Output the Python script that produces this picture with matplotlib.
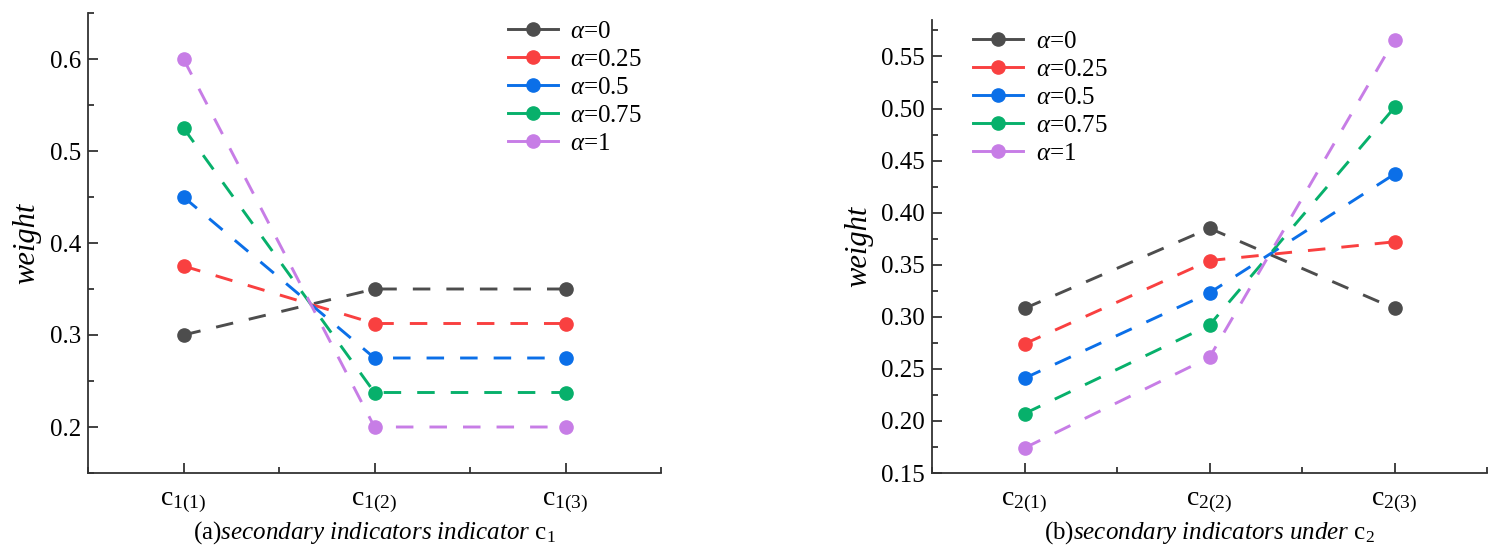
import matplotlib
matplotlib.use("Agg")
import matplotlib.pyplot as plt
from matplotlib.lines import Line2D
from matplotlib.ticker import MultipleLocator

plt.rcParams['font.family'] = ['Liberation Serif', 'DejaVu Serif']
plt.rcParams['mathtext.fontset'] = 'custom'
plt.rcParams['mathtext.rm'] = 'Liberation Serif'
plt.rcParams['mathtext.it'] = 'Liberation Serif:italic'
plt.rcParams['mathtext.bf'] = 'Liberation Serif:bold'

# ---- data ----
alphas = ["0", "0.25", "0.5", "0.75", "1"]
colors = ["#4d4d4d", "#f94040", "#0b6fe8", "#07b06b", "#c77de6"]

cats_a = [r"$\mathrm{c}_{1(1)}$", r"$\mathrm{c}_{1(2)}$", r"$\mathrm{c}_{1(3)}$"]
a_alpha0 = [0.300, 0.350, 0.350]
a_alpha025 = [0.375, 0.3125, 0.3125]
a_alpha05 = [0.450, 0.275, 0.275]
a_alpha075 = [0.525, 0.2375, 0.2375]
a_alpha1 = [0.600, 0.200, 0.200]

cats_b = [r"$\mathrm{c}_{2(1)}$", r"$\mathrm{c}_{2(2)}$", r"$\mathrm{c}_{2(3)}$"]
b_alpha0 = [0.308, 0.385, 0.308]
b_alpha025 = [0.274, 0.354, 0.372]
b_alpha05 = [0.241, 0.323, 0.437]
b_alpha075 = [0.207, 0.292, 0.501]
b_alpha1 = [0.174, 0.261, 0.566]

xlabel_a = r"(a)$\mathit{secondary\ indicators\ indicator}$ $\mathrm{c}_1$"
xlabel_b = r"(b)$\mathit{secondary\ indicators\ under}$ $\mathrm{c}_2$"
ylabel = "weight"

series_a = [a_alpha0, a_alpha025, a_alpha05, a_alpha075, a_alpha1]
series_b = [b_alpha0, b_alpha025, b_alpha05, b_alpha075, b_alpha1]

fig = plt.figure(figsize=(15, 5.56), dpi=100)
ax1 = fig.add_axes([88/1500, 83/556, 573/1500, 460/556])
ax2 = fig.add_axes([932/1500, 83/556, 555/1500, 453/556])

FS = 18
LW = 2.1
MS = 9.5


def draw(ax, cats, series, ylim, ymaj, ymin, yfmt, xlabel, anchor):
    x = list(range(1, len(cats) + 1))
    for s, c in zip(series, colors):
        ax.plot(x, s, color=c, lw=LW, ls=(0, (6, 5.5)), marker='o', ms=MS,
                zorder=3)
    ax.set_xlim(0.5, 3.5)
    ax.set_ylim(*ylim)
    ax.set_xticks(x)
    ax.set_xticklabels(cats, fontsize=FS + 2)
    ax.xaxis.set_minor_locator(MultipleLocator(0.5))
    ax.yaxis.set_major_locator(MultipleLocator(ymaj))
    ax.yaxis.set_minor_locator(MultipleLocator(ymin))
    ax.yaxis.set_major_formatter(plt.FormatStrFormatter(yfmt))
    ax.tick_params(axis='y', which='major', labelsize=FS)
    ax.tick_params(which='major', direction='in', length=7, width=1.3,
                   color='#333333', pad=5)
    ax.tick_params(axis='x', which='major', pad=12)
    ax.tick_params(which='minor', direction='in', length=4.5, width=1.3,
                   color='#333333')
    for sp in ['top', 'right']:
        ax.spines[sp].set_visible(False)
    for sp in ['left', 'bottom']:
        ax.spines[sp].set_linewidth(1.3)
        ax.spines[sp].set_color('#333333')
    ax.set_xlabel(xlabel, fontsize=FS, labelpad=3)
    ax.set_ylabel(ylabel, fontsize=22, fontstyle='italic', labelpad=6)
    handles = [Line2D([], [], color=c, lw=LW, marker='o', ms=MS)
               for c in colors]
    labels = [r"$\alpha$=" + a for a in alphas]
    ax.legend(handles, labels, loc='upper left', bbox_to_anchor=anchor,
              frameon=False, fontsize=FS, handlelength=2.0,
              handletextpad=0.5, labelspacing=0.22, borderaxespad=0.0)


draw(ax1, cats_a, series_a, (0.15, 0.65), 0.1, 0.05, '%.1f', xlabel_a,
     (0.715, 1.005))
draw(ax2, cats_b, series_b, (0.15, 0.585), 0.05, 0.025, '%.2f', xlabel_b,
     (0.056, 1.0))

fig.savefig("out.png", dpi=100)
